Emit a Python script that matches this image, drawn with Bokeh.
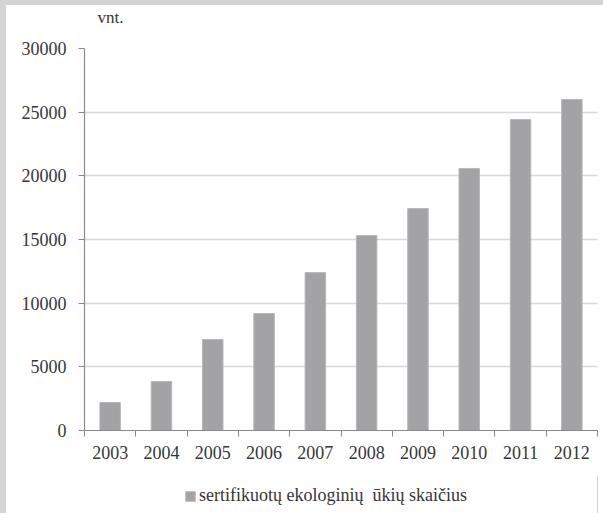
from bokeh.plotting import figure
from bokeh.layouts import column
from bokeh.models import FixedTicker, Legend, LegendItem, NumeralTickFormatter, ColumnDataSource, Label
from bokeh.embed import file_html
from bokeh.resources import INLINE

years = ["2003", "2004", "2005", "2006", "2007", "2008", "2009", "2010", "2011", "2012"]
farms = [2200, 3850, 7150, 9190, 12400, 15310, 17430, 20580, 24420, 26000]
y_ticks = [0, 5000, 10000, 15000, 20000, 25000, 30000]
unit_label = "vnt."
series_name = "sertifikuotų ekologinių  ūkių skaičius"

FONT = "Liberation Serif"
TXT = "#363636"
BAR = "#a3a3a5"
BAR_LINE = "#b8b8ba"
W = 597

idx = list(range(len(years)))
src = ColumnDataSource(dict(x=idx, top=farms, year=years))

# top strip with the unit label (its frame is aligned with the chart frame)
top = figure(width=W, height=33, output_backend="svg", toolbar_location=None,
             x_range=(0, 513), y_range=(0, 33), min_border=0,
             x_axis_location=None, y_axis_location=None)
top.grid.visible = False
top.outline_line_color = None
top.border_fill_color = "white"
top.add_layout(Label(x=13, y=21, text=unit_label, text_font=FONT, text_font_size="17px",
                     text_color=TXT, text_align="left", text_baseline="middle"))

p = figure(width=W, height=437, output_backend="svg", toolbar_location=None,
           x_range=(-0.5, len(years) - 0.5), y_range=(0, 30000),
           min_border_left=78, min_border_right=6, min_border_top=10, min_border_bottom=45)
p.outline_line_color = None
p.background_fill_color = "white"
p.border_fill_color = "white"

r = p.vbar(x="x", top="top", width=0.4, source=src, fill_color=BAR, line_color=BAR_LINE, line_width=1)

p.xgrid.grid_line_color = None
p.ygrid.grid_line_color = "#d9d9d9"
p.ygrid.grid_line_width = 1.5
p.yaxis.ticker = FixedTicker(ticks=y_ticks)
p.yaxis.formatter = NumeralTickFormatter(format="0")
p.xaxis.ticker = FixedTicker(ticks=idx, minor_ticks=[i - 0.5 for i in range(len(years) + 1)])
p.xaxis.major_label_overrides = {i: y for i, y in enumerate(years)}

for ax in (p.xaxis[0], p.yaxis[0]):
    ax.axis_line_color = "#8a8a8a"
    ax.axis_line_width = 1.2
    ax.major_label_text_font = FONT
    ax.major_label_text_font_size = "18px"
    ax.major_label_text_color = TXT

p.yaxis.major_tick_line_color = "#8a8a8a"
p.yaxis.major_tick_out = 6
p.yaxis.major_tick_in = 0
p.yaxis.minor_tick_line_color = None
p.yaxis.major_label_standoff = 12

p.xaxis.major_tick_line_color = None
p.xaxis.major_tick_out = 0
p.xaxis.major_tick_in = 0
p.xaxis.minor_tick_line_color = "#8a8a8a"
p.xaxis.minor_tick_out = 6
p.xaxis.minor_tick_in = 0
p.xaxis.major_label_standoff = 9

# legend strip as a second, axis-less figure
lg = figure(width=W, height=38, output_backend="svg", toolbar_location=None,
            x_range=(0, 1), y_range=(0, 1), min_border=0,
            x_axis_location=None, y_axis_location=None)
lg.grid.visible = False
lg.outline_line_color = None
lg.border_fill_color = "white"
lr = lg.vbar(x=[5], top=[1], width=0.4, fill_color=BAR, line_color=BAR_LINE, line_width=1)
legend = Legend(items=[LegendItem(label=series_name, renderers=[lr])], location=(100, 7),
                orientation="horizontal", padding=0, margin=0, border_line_color=None,
                background_fill_alpha=0, glyph_width=12, glyph_height=12, label_height=20,
                label_standoff=3, label_text_font=FONT, label_text_font_size="18px",
                label_text_color=TXT)
lg.add_layout(legend)

page = column(top, p, lg, spacing=0)
page.styles = {"border-left": "6px solid #d4d4d4", "border-top": "5px solid #d4d4d4"}

open("out.html", "w").write(file_html(page, INLINE))
